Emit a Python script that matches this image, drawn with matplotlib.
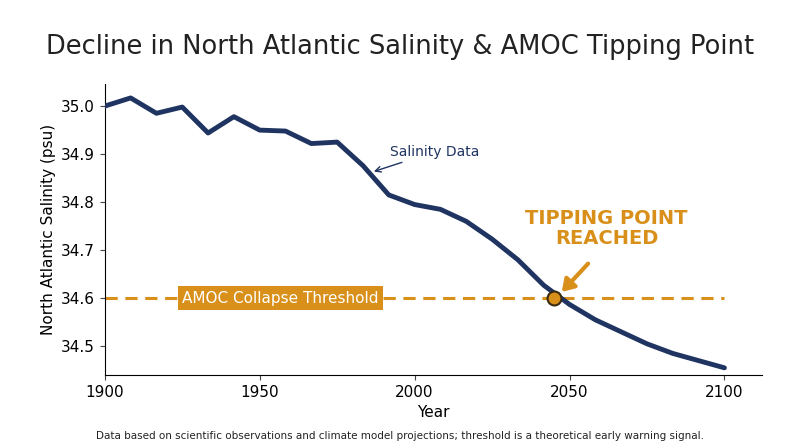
import matplotlib.pyplot as plt
import numpy as np

# Salinity readings (psu) every ~8.3 years
years = np.linspace(1900, 2100, 25)
salinity = [35.000, 35.017, 34.985, 34.998, 34.944, 34.978, 34.950, 34.948,
            34.922, 34.925, 34.876, 34.815, 34.795, 34.785, 34.760, 34.723,
            34.680, 34.627, 34.587, 34.555, 34.530, 34.505, 34.485, 34.470,
            34.455]
threshold = 34.6
tipping_year = 2045

navy = "#1f3461"
orange = "#d9901a"

fig = plt.figure(figsize=(8, 4.47), dpi=100)
ax = fig.add_axes([0.131, 0.161, 0.821, 0.65])

ax.plot(years, salinity, color=navy, lw=3.5, solid_capstyle="round", zorder=3)
ax.plot([1900, 2100], [threshold, threshold], color=orange, lw=2.2,
        ls=(0, (4, 2.5)), zorder=2)
ax.plot(tipping_year, threshold, "o", ms=10, mfc=orange, mec="#3a2a10", mew=1.5, zorder=4)

ax.text(1925, threshold, "AMOC Collapse Threshold", color="white", fontsize=11,
        ha="left", va="center", zorder=5,
        bbox=dict(boxstyle="square,pad=0.3", fc=orange, ec="none"))
ax.text(2062, 34.745, "TIPPING POINT\nREACHED", color=orange, fontsize=14,
        fontweight="bold", ha="center", va="center", linespacing=1.1)
ax.annotate("", xy=(2047.5, 34.613), xytext=(2056, 34.672),
            arrowprops=dict(arrowstyle="-|>,head_width=0.45,head_length=0.7",
                            color=orange, lw=3, shrinkA=0, shrinkB=0), zorder=5)
ax.annotate("Salinity Data", xy=(1986, 34.862), xytext=(1992, 34.905), color=navy,
            fontsize=10, ha="left", va="center",
            arrowprops=dict(arrowstyle="->", color=navy, lw=1, shrinkA=2, shrinkB=2))

ax.set_xlim(1900, 2112)
ax.set_ylim(34.44, 35.045)
ax.set_xticks([1900, 1950, 2000, 2050, 2100])
ax.set_yticks([34.5, 34.6, 34.7, 34.8, 34.9, 35.0])
ax.set_yticklabels([f"{v:.1f}" for v in [34.5, 34.6, 34.7, 34.8, 34.9, 35.0]])
ax.tick_params(labelsize=11, color="#444444")
for side in ("top", "right"):
    ax.spines[side].set_visible(False)
ax.set_xlabel("Year", fontsize=11)
ax.set_ylabel("North Atlantic Salinity (psu)", fontsize=11)

fig.text(0.5, 0.895, "Decline in North Atlantic Salinity & AMOC Tipping Point",
         ha="center", va="center", fontsize=18.5, color="#222222")
fig.text(0.5, 0.025, "Data based on scientific observations and climate model projections; "
         "threshold is a theoretical early warning signal.",
         ha="center", va="center", fontsize=7.5, color="#222222")

fig.savefig("out.png", dpi=100)
